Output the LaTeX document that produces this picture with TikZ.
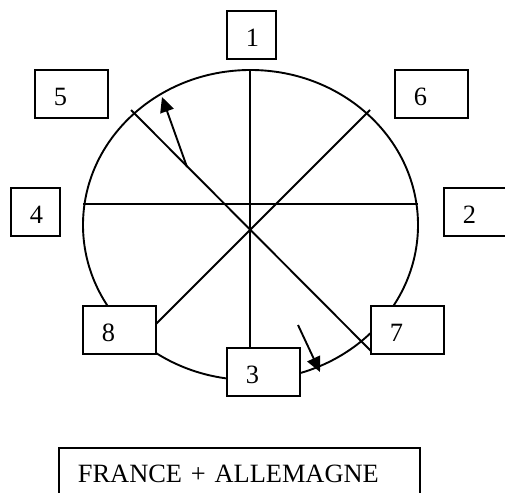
\documentclass[tikz,border=0pt]{standalone}
\usepackage{fontspec}
\setmainfont{Liberation Serif}
\usetikzlibrary{arrows.meta,backgrounds}
\begin{document}
\begin{tikzpicture}[x=1pt,y=-1pt,
  ln/.style={line width=1.9pt},
  lbox/.style={draw, fill=white, line width=1.9pt, anchor=north west,
    inner xsep=0pt, inner ysep=0pt, align=left, minimum height=48pt,
    text height=24pt, text depth=0pt, font=\fontsize{26.4}{30}\selectfont},
  narrowbox/.style={lbox, text width=49pt},
  widebox/.style={lbox, text width=73pt},
  arr/.style={line width=1.9pt, -{Triangle[length=15pt,width=14pt]}}]
\useasboundingbox (0,0) rectangle (505,492);

\node[narrowbox] (b1) at (226,10) {\hspace*{19pt}1};
\node[widebox] (b5) at (34,69) {\hspace*{19pt}5};
\node[widebox] (b6) at (394,69) {\hspace*{19pt}6};
\node[narrowbox] (b4) at (10,187) {\hspace*{19pt}4};
\node[widebox] (b2) at (443,187) {\hspace*{19pt}2};
\node[widebox] (b8) at (82,305) {\hspace*{19pt}8};
\node[widebox] (b7) at (370,305) {\hspace*{19pt}7};
\node[widebox] (b3) at (226,347) {\hspace*{19pt}3};
\node[lbox, text width=361pt, minimum height=50pt, text height=20pt] (fa) at (58,447) {\hspace*{19pt}FRANCE + ALLEMAGNE};

\coordinate (O) at (250.5,225);
\coordinate (top) at (250,70);
\coordinate (hl) at (83,204);
\coordinate (hr) at (418,204);
\coordinate (d1a) at (131,110);
\coordinate (d1b) at (373,353);
\coordinate (d2a) at (370,110);
\coordinate (d2b) at (150,330);
\coordinate (a1s) at (187,167);
\coordinate (a1e) at (162,97);
\coordinate (a2s) at (298,325);
\coordinate (a2e) at (320,372);

\begin{scope}[on background layer]
  \draw[ln] (O) ellipse [x radius=167.5pt, y radius=155pt];
  \draw[ln] (top) -- (top |- b3.north);
  \draw[ln] (hl) -- (hr);
  \draw[ln] (d1a) -- (d1b);
  \draw[ln] (d2a) -- (d2b);
\end{scope}

\draw[arr] (a1s) -- (a1e);
\draw[arr] (a2s) -- (a2e);
\end{tikzpicture}
\end{document}
